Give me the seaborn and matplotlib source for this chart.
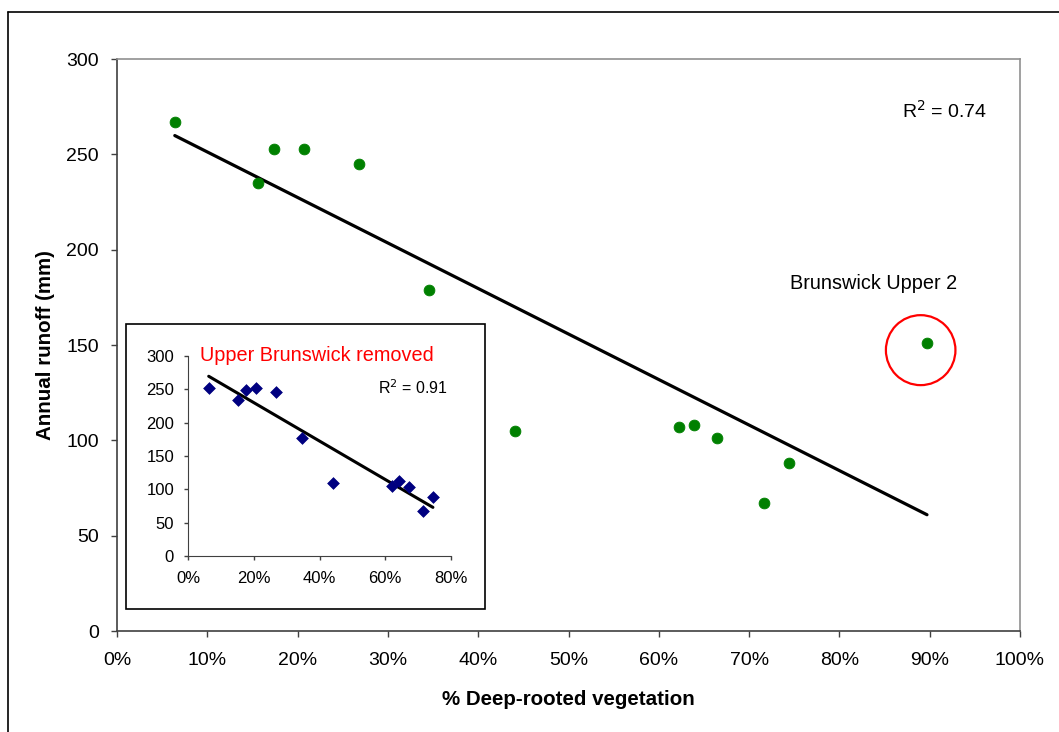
import numpy as np
import pandas as pd
import matplotlib
matplotlib.use("Agg")
import matplotlib.pyplot as plt
from matplotlib.patches import Rectangle, Ellipse
from matplotlib.lines import Line2D
from matplotlib.ticker import PercentFormatter
import seaborn as sns

# all sites
deep_rooted = [6.4, 15.6, 17.4, 20.7, 26.8, 34.6, 44.1, 62.2, 63.9, 66.4, 71.6, 74.4, 89.7]
runoff = [267, 235, 253, 253, 245, 179, 105, 107, 108, 101, 67, 88, 151]

# inset: Upper Brunswick removed
deep_rooted_inset = [6.3, 15.1, 17.7, 20.6, 26.7, 34.8, 44.2, 62.2, 64.3, 67.2, 71.4, 74.5]
runoff_inset = [252, 234, 249, 252, 246, 177, 110, 105, 113, 103, 68, 88]

r2_main = "R$^2$ = 0.74"
r2_inset = "R$^2$ = 0.91"

sns.set_style("white")
plt.rcParams["font.family"] = ["Liberation Sans", "DejaVu Sans"]
plt.rcParams.update({"text.color": "black", "axes.labelcolor": "black",
                     "xtick.labelcolor": "black", "ytick.labelcolor": "black"})

df = pd.DataFrame({"veg": deep_rooted, "runoff": runoff})
df_in = pd.DataFrame({"veg": deep_rooted_inset, "runoff": runoff_inset})

fig = plt.figure(figsize=(10.59, 7.32), dpi=100)

# outer chart frame
fig.add_artist(Line2D([8 / 1059, 8 / 1059], [0, 1 - 12 / 732], color="black", lw=1.2))
fig.add_artist(Line2D([8 / 1059, 1], [1 - 12 / 732, 1 - 12 / 732], color="black", lw=1.2))

ax = fig.add_axes([117 / 1059, 1 - 631 / 732, 903 / 1059, 572 / 732])
sns.regplot(data=df, x="veg", y="runoff", ci=None, scatter=False, ax=ax,
            line_kws=dict(color="black", lw=2.3))
sns.scatterplot(data=df, x="veg", y="runoff", ax=ax, color="#008000",
                edgecolor="#008000", s=60, zorder=3)
ax.set_xlim(0, 100)
ax.set_ylim(0, 300)
ax.set_xticks(np.arange(0, 101, 10))
ax.set_yticks(np.arange(0, 301, 50))
ax.xaxis.set_major_formatter(PercentFormatter(decimals=0))
ax.tick_params(axis="both", labelsize=14, direction="out", length=4, width=1,
               left=True, bottom=True, color="#404040", labelcolor="black")
ax.tick_params(axis="y", pad=9)
ax.tick_params(axis="x", pad=11)
for side in ["left", "bottom"]:
    ax.spines[side].set_color("#404040")
    ax.spines[side].set_linewidth(1.2)
for side in ["top", "right"]:
    ax.spines[side].set_color("#909090")
    ax.spines[side].set_linewidth(1.2)
ax.set_xlabel("% Deep-rooted vegetation", fontsize=14.8, fontweight="bold")
ax.set_ylabel("Annual runoff (mm)", fontsize=14.8, fontweight="bold")
ax.xaxis.set_label_coords(0.5, -0.103)
ax.yaxis.set_label_coords(-0.069, 0.5)

ax.text(91.6, 273, r2_main, fontsize=14, ha="center", va="center")
ax.text(83.8, 182.5, "Brunswick Upper 2", fontsize=14.3, ha="center", va="center")
ax.add_patch(Ellipse((89.0, 147.3), 7.7, 36.7, fill=False, edgecolor="red", lw=1.6, zorder=4))

# inset box
fig.add_artist(Rectangle((126 / 1059, 1 - 609 / 732), 359 / 1059, 285 / 732,
                         facecolor="white", edgecolor="black", lw=1.2,
                         transform=fig.transFigure, zorder=5))

axi = fig.add_axes([188 / 1059, 1 - 556 / 732, 263 / 1059, 200 / 732], zorder=6)
axi.patch.set_alpha(0)
sns.regplot(data=df_in, x="veg", y="runoff", ci=None, scatter=False, ax=axi,
            line_kws=dict(color="black", lw=2.2))
sns.scatterplot(data=df_in, x="veg", y="runoff", ax=axi, color="#000080",
                edgecolor="#000080", marker="D", s=36, zorder=3)
axi.set_xlim(0, 80)
axi.set_ylim(0, 300)
axi.set_xticks(np.arange(0, 81, 20))
axi.set_yticks(np.arange(0, 301, 50))
axi.xaxis.set_major_formatter(PercentFormatter(decimals=0))
axi.tick_params(axis="both", labelsize=12, direction="out", length=3, width=1,
                left=True, bottom=True, color="#404040", labelcolor="black")
axi.tick_params(axis="y", pad=7)
axi.tick_params(axis="x", pad=8)
for side in ["left", "bottom"]:
    axi.spines[side].set_color("#404040")
for side in ["top", "right"]:
    axi.spines[side].set_visible(False)
axi.set_xlabel("")
axi.set_ylabel("")
axi.text(3.6, 300, "Upper Brunswick removed", color="red", fontsize=14.3,
         ha="left", va="center")
axi.text(68.5, 252, r2_inset, fontsize=11.5, ha="center", va="center")

fig.savefig("out.png", dpi=100)
